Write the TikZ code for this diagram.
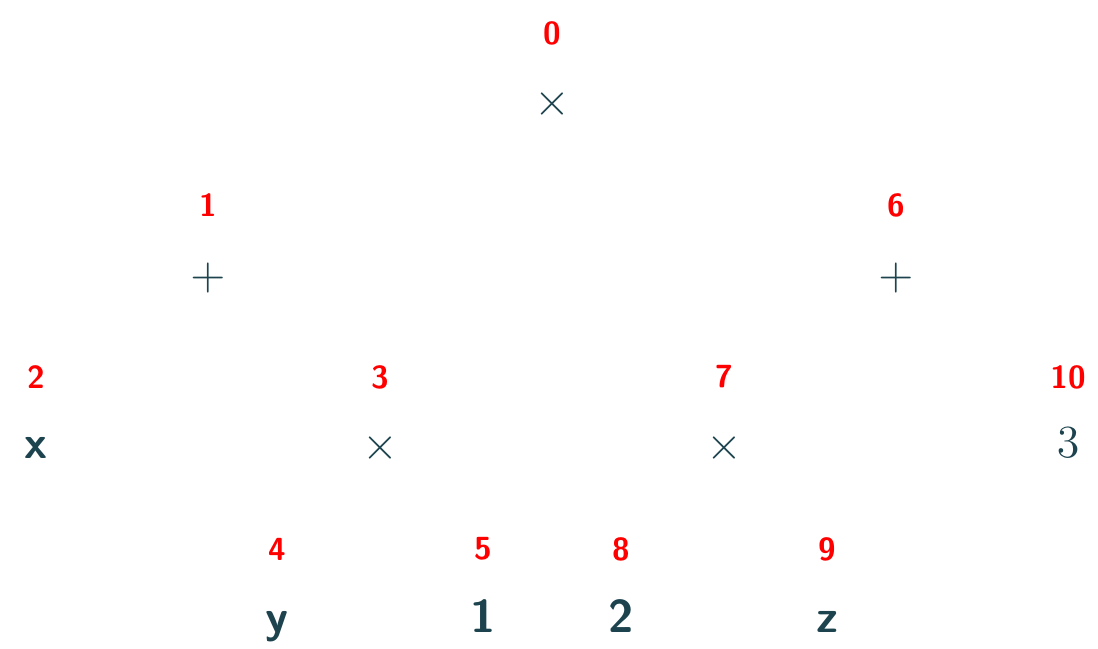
\documentclass[tikz,border=0pt]{standalone}
\usepackage{amsmath,amssymb}
\usepackage{xcolor}
\usepackage{tikz}
\usetikzlibrary{positioning}
\definecolor{treeteal}{HTML}{1D434E}
\definecolor{idxred}{HTML}{FF0000}
\tikzset{
  idxlabel/.style={text=idxred,font=\sffamily\bfseries\normalsize,inner sep=0pt},
  leafnode/.style={text=treeteal,font=\sffamily\bfseries\Large,inner sep=0pt,anchor=base},
  opnode/.style={text=treeteal,font=\Large,inner sep=0pt}
}
\begin{document}
\begin{tikzpicture}[x=0.011cm,y=-0.011cm]
  \useasboundingbox (0,0) rectangle (1098,648);
  % level 0
  \node[idxlabel] (l0) at (552,33) {0};
  \node[opnode] (n0) at (552,104) {$\times$};
  % level 1
  \node[idxlabel] (l1) at (208,205) {1};
  \node[opnode] (n1) at (208,278) {$+$};
  \node[idxlabel] (l6) at (896,205) {6};
  \node[opnode] (n6) at (896,278) {$+$};
  % level 2
  \node[idxlabel] (l2) at (36,377) {2};
  \node[leafnode] (n2) at (36,458) {x};
  \node[idxlabel] (l3) at (380,377) {3};
  \node[opnode] (n3) at (380,448) {$\times$};
  \node[idxlabel] (l7) at (724,377) {7};
  \node[opnode] (n7) at (724,448) {$\times$};
  \node[idxlabel] (l10) at (1068,377) {10};
  \node[opnode,anchor=base] (n10) at (1068,457) {$3$};
  % level 3
  \node[idxlabel] (l4) at (277,549) {4};
  \node[leafnode] (n4) at (277,632) {y};
  \node[idxlabel] (l5) at (483,549) {5};
  \node[leafnode] (n5) at (483,632) {1};
  \node[idxlabel] (l8) at (621,549) {8};
  \node[leafnode] (n8) at (621,632) {2};
  \node[idxlabel] (l9) at (827,549) {9};
  \node[leafnode] (n9) at (827,632) {z};
\end{tikzpicture}
\end{document}
